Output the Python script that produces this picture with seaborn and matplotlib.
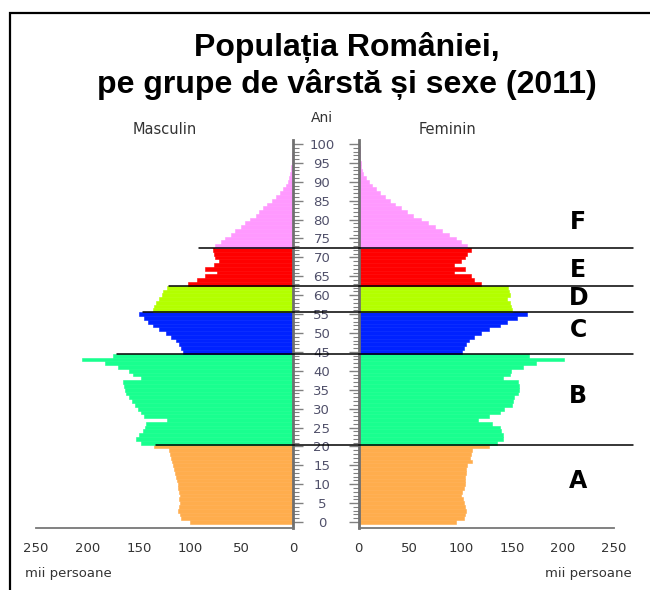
import numpy as np
import pandas as pd
import matplotlib
matplotlib.use("Agg")
import matplotlib.pyplot as plt
import seaborn as sns
from matplotlib.lines import Line2D
from matplotlib.patches import Rectangle
from matplotlib.ticker import FixedLocator

# ---------------- data (thousands of persons, ages 0..100) ----------------
ages = list(range(0, 101))
male = [100, 109, 110, 112, 111, 110, 111, 110, 111, 112,
        112, 113, 114, 115, 116, 117, 118, 119, 120, 121,
        135, 148, 153, 150, 146, 144, 143, 123, 145, 148,
        151, 154, 157, 160, 162, 163, 164, 165, 148, 156,
        160, 170, 183, 205, 175, 107, 109, 111, 114, 119,
        124, 130, 136, 141, 145, 150, 136, 135, 133, 130,
        127, 126, 123, 102, 93, 86, 74, 86, 77, 72,
        76, 77, 78, 76, 70, 66, 60, 56, 51, 47,
        42, 36, 33, 29, 25, 20, 17, 13, 10, 7,
        5, 4, 3, 2, 1.5, 1.2, 0.8, 0.6, 0.4, 0.3,
        0.3]
female = [95, 103, 104, 105, 104, 103, 102, 100, 101, 103,
          104, 104, 104, 105, 105, 106, 111, 109, 110, 111,
          128, 135, 141, 141, 139, 138, 131, 117, 128, 138,
          142, 150, 151, 152, 156, 157, 157, 156, 141, 148,
          149, 161, 174, 201, 167, 101, 103, 105, 108, 113,
          120, 128, 138, 145, 155, 165, 150, 149, 148, 145,
          148, 147, 146, 120, 113, 110, 93, 104, 93, 100,
          104, 106, 110, 106, 100, 95, 88, 82, 75, 68,
          61, 53, 47, 41, 36, 31, 26, 21, 17, 13,
          10, 7, 4.5, 3, 2.5, 2, 1.6, 1.3, 1, 0.8,
          0.5]
group_names = ["A", "B", "C", "D", "E", "F"]
group_first_age = [0, 21, 45, 56, 63, 73]
group_colors = ["#FFAD4D", "#19FF8F", "#0022FF", "#B3FF00", "#FF0000", "#FF99FF"]
boundary_ages = [20.5, 44.5, 55.5, 62.5, 72.5]
boundary_left_values = [133, 171, 146, 121, 91]
boundary_right_value = 269
letter_ages = [10.8, 33.3, 50.8, 59.3, 66.7, 79.4]
x_ticks = [0, 50, 100, 150, 200, 250]
age_ticks = list(range(0, 101, 5))

title_1 = "Populația României,"
title_2 = "pe grupe de vârstă și sexe (2011)"

# ---------------- table ----------------
def group_of(a):
    g = group_names[0]
    for name, start in zip(group_names, group_first_age):
        if a >= start:
            g = name
    return g

df = pd.DataFrame({"age": ages, "male": male, "female": female})
df["group"] = [group_of(a) for a in ages]
palette = dict(zip(group_names, group_colors))

# ---------------- figure ----------------
sns.set_theme(style="white")
plt.rcParams["font.family"] = ["DejaVu Sans"]

W, H = 650, 590
fig = plt.figure(figsize=(W / 100, H / 100), dpi=100)

def fx(px):
    return px / W

def fy(py):
    return 1 - py / H

ax_bottom_px, ax_top_px = 527.7, 140.2
ax_m = fig.add_axes([fx(36), fy(ax_bottom_px), fx(293) - fx(36), fy(ax_top_px) - fy(ax_bottom_px)])
ax_f = fig.add_axes([fx(358.7), fy(ax_bottom_px), fx(614) - fx(358.7), fy(ax_top_px) - fy(ax_bottom_px)])

for ax, col in ((ax_m, "male"), (ax_f, "female")):
    sns.barplot(data=df, x=col, y="age", hue="group", hue_order=group_names,
                palette=palette, orient="y", native_scale=True, dodge=False,
                width=1.0, errorbar=None, saturation=1, legend=False, ax=ax)
    for p in ax.patches:
        p.set_edgecolor(p.get_facecolor())
        p.set_linewidth(0.4)
    ax.set_xlabel("")
    ax.set_ylabel("")
    ax.set_ylim(-1.5, 101)
    ax.set_xticks(x_ticks)
    ax.set_xticklabels([str(t) for t in x_ticks])
    ax.spines["top"].set_visible(False)
    ax.spines["bottom"].set_color("#777777")
    ax.spines["bottom"].set_linewidth(1.3)
    ax.tick_params(axis="x", direction="out", length=3, width=1, color="#777777",
                   labelsize=9.5, labelcolor="#333333", pad=7)
    ax.yaxis.set_major_locator(FixedLocator(age_ticks))
    ax.yaxis.set_minor_locator(FixedLocator(ages))
    ax.tick_params(axis="y", which="major", direction="out", length=7, width=1, color="#808080")
    ax.tick_params(axis="y", which="minor", direction="out", length=4, width=0.8, color="#808080")

ax_m.set_xlim(250, 0)
ax_f.set_xlim(0, 250)

ax_m.spines["left"].set_visible(False)
ax_m.spines["right"].set_color("#707070")
ax_m.spines["right"].set_linewidth(2)
ax_m.yaxis.tick_right()
ax_m.tick_params(axis="y", which="both", labelright=False, labelleft=False)

ax_f.spines["right"].set_visible(False)
ax_f.spines["left"].set_color("#707070")
ax_f.spines["left"].set_linewidth(2)
ax_f.yaxis.tick_left()
ax_f.set_yticks(age_ticks)
ax_f.set_yticklabels([str(t) for t in age_ticks])
ax_f.tick_params(axis="y", which="major", labelsize=9.5, labelcolor="#50506a", pad=19.5)
for lab in ax_f.get_yticklabels():
    lab.set_horizontalalignment("center")

# ---------------- boundary lines ----------------
inv = fig.transFigure.inverted()
for age_b, lv in zip(boundary_ages, boundary_left_values):
    p1 = inv.transform(ax_m.transData.transform((lv, age_b)))
    p2 = inv.transform(ax_f.transData.transform((boundary_right_value, age_b)))
    fig.add_artist(Line2D([p1[0], p2[0]], [p1[1], p2[1]], transform=fig.transFigure,
                          color="black", lw=1.1, zorder=10))

# ---------------- group letters ----------------
for name, a in zip(group_names, letter_ages):
    ax_f.text(215, a, name, ha="center", va="center", fontsize=17,
              fontweight="heavy", color="black", clip_on=False)

# ---------------- texts ----------------
fig.text(fx(347), fy(56), title_1, ha="center", va="baseline", fontsize=23,
         fontweight="bold", color="black", family=["Liberation Sans", "DejaVu Sans"])
fig.text(fx(347), fy(93), title_2, ha="center", va="baseline", fontsize=23,
         fontweight="bold", color="black", family=["Liberation Sans", "DejaVu Sans"])
fig.text(fx(165), fy(130), "Masculin", ha="center", va="center", fontsize=10.5, color="#333333")
fig.text(fx(447), fy(130), "Feminin", ha="center", va="center", fontsize=10.5, color="#333333")
fig.text(fx(322), fy(118), "Ani", ha="center", va="center", fontsize=10, color="#333333")
fig.text(fx(25), fy(573), "mii persoane", ha="left", va="center", fontsize=9.5, color="#333333")
fig.text(fx(632), fy(573), "mii persoane", ha="right", va="center", fontsize=9.5, color="#333333")

# ---------------- frame ----------------
fig.add_artist(Rectangle((fx(10), -0.2), 2, fy(13) + 0.2, transform=fig.transFigure,
                         fill=False, edgecolor="black", lw=1.6))

fig.savefig("out.png", dpi=100)
